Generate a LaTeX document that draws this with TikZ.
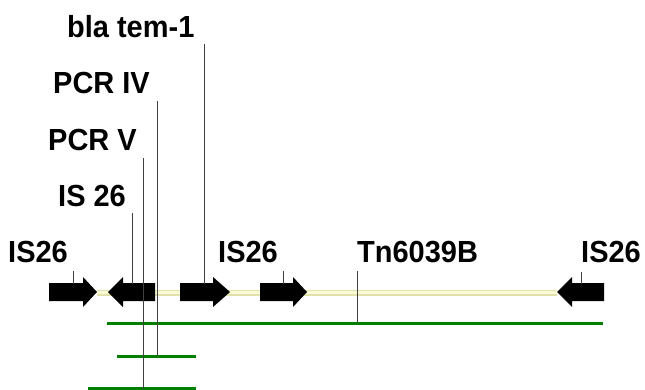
\documentclass[tikz,border=0pt]{standalone}
\usepackage{fontspec}
\newfontfamily\labfont[FakeStretch=0.95]{Liberation Sans}
\definecolor{gline}{RGB}{0,128,0}
\definecolor{yedge}{RGB}{225,225,170}
\definecolor{yfill}{RGB}{250,250,215}
\tikzset{
  lab/.style={anchor=base west,inner sep=0pt,font=\labfont\bfseries\fontsize{30.5}{32}\selectfont},
  gene/.style={fill=black},
  tick/.style={draw=black!75,line width=1pt},
  cover/.style={draw=gline,line width=3pt},
}
\begin{document}
\begin{tikzpicture}[x=1pt,y=-1pt]
\useasboundingbox (0,0) rectangle (645,389);
% backbone
\draw[yedge,line width=6pt] (97,292.5) -- (557,292.5);
\draw[yfill,line width=3pt] (97,292.5) -- (557,292.5);
% gene arrows
\fill[gene] (49,283) -- (83,283) -- (83,277) -- (97,292) -- (83,307) -- (83,301) -- (49,301) -- cycle;
\fill[gene] (155,283) -- (123,283) -- (123,277) -- (108,292) -- (123,307) -- (123,301) -- (155,301) -- cycle;
\fill[gene] (180,283) -- (213,283) -- (213,277) -- (230,292) -- (213,307) -- (213,301) -- (180,301) -- cycle;
\fill[gene] (260,283) -- (293,283) -- (293,277) -- (307,292) -- (293,307) -- (293,301) -- (260,301) -- cycle;
\fill[gene] (604,283) -- (572,283) -- (572,277) -- (557,292) -- (572,307) -- (572,301) -- (604,301) -- cycle;
% coverage lines
\coordinate (g1a) at (107,323.5); \coordinate (g1b) at (603,323.5);
\coordinate (g2a) at (117,356); \coordinate (g2b) at (196,356);
\coordinate (g3a) at (88,388);  \coordinate (g3b) at (196,388);
\draw[cover] (g1a) -- (g1b);
\draw[cover] (g2a) -- (g2b);
\draw[cover] (g3a) -- (g3b);
% labels
\node[lab] (bla) at (67,37) {bla tem-1};
\node[lab] (pcr4) at (53,93) {PCR IV};
\node[lab] (pcr5) at (48,150) {PCR V};
\node[lab] (is26a) at (58,206) {IS 26};
\node[lab] (is26l) at (8,262) {IS26};
\node[lab] (is26m) at (218,262) {IS26};
\node[lab] (tn) at (357,262) {Tn6039B};
\node[lab] (is26r) at (581,262) {IS26};
% label lines
\coordinate (c1a) at (73,271);  \coordinate (c1b) at (73,284);
\coordinate (c2a) at (132,213); \coordinate (c2b) at (132,284);
\coordinate (c3a) at (143,158); \coordinate (c3b) at (143,389);
\coordinate (c4a) at (157,101); \coordinate (c4b) at (157,356);
\coordinate (c5a) at (204.5,44); \coordinate (c5b) at (204.5,284);
\coordinate (c6a) at (283,271); \coordinate (c6b) at (283,284);
\coordinate (c7a) at (357,271); \coordinate (c7b) at (357,323);
\coordinate (c8a) at (581,272); \coordinate (c8b) at (581,284);
\draw[tick] (c1a) -- (c1b);
\draw[tick] (c2a) -- (c2b);
\draw[tick] (c3a) -- (c3b);
\draw[tick] (c4a) -- (c4b);
\draw[tick] (c5a) -- (c5b);
\draw[tick] (c6a) -- (c6b);
\draw[tick] (c7a) -- (c7b);
\draw[tick] (c8a) -- (c8b);
\end{tikzpicture}
\end{document}
